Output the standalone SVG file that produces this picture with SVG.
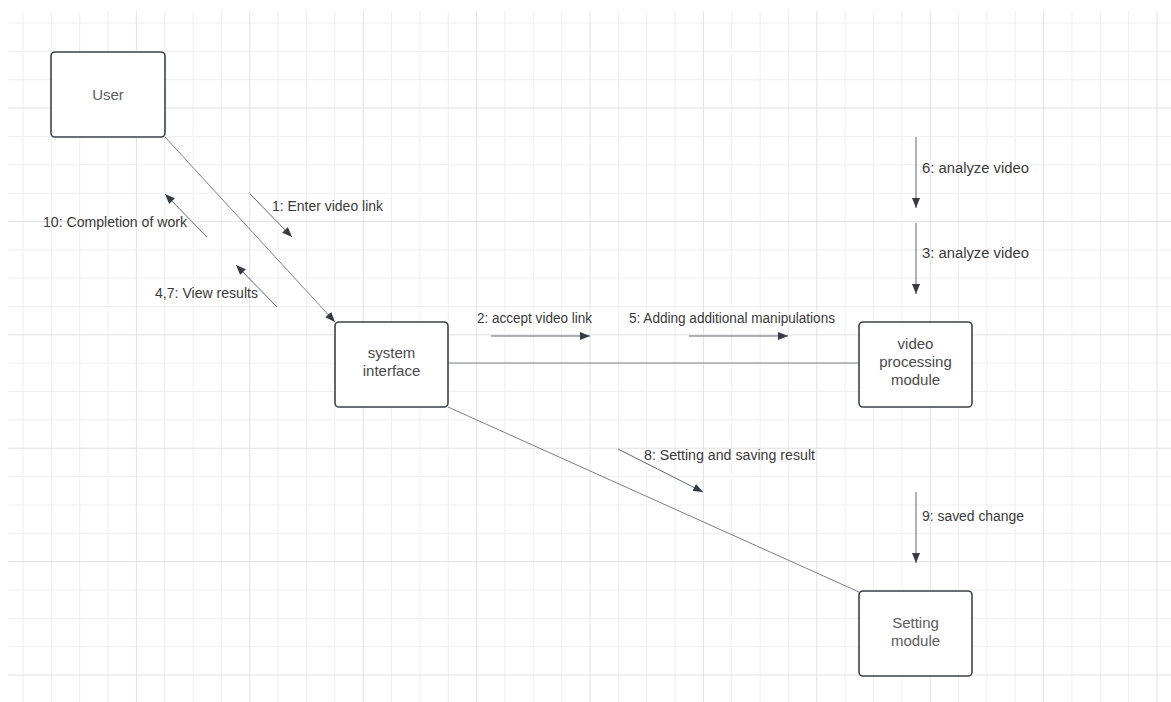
<svg xmlns="http://www.w3.org/2000/svg" width="1171" height="702" viewBox="0 0 1171 702">
<defs>
<style>
.gmin{stroke:#efefef;stroke-width:1;fill:none}
.gmaj{stroke:#e2e2e2;stroke-width:1;fill:none}
.node{fill:#ffffff;stroke:#3d424a;stroke-width:1.6}
.ntext{font-family:"Liberation Sans",Arial,sans-serif;font-size:15px;fill:#4a4a4a;text-anchor:middle}
.link{stroke:#7a7e85;stroke-width:1;fill:none}
.msg{stroke:#5f6670;stroke-width:1;fill:none}
.mtext{font-family:"Liberation Sans",Arial,sans-serif;font-size:14px;fill:#3a3a3a}
</style>
<marker id="ah" viewBox="0 0 10 8" refX="10" refY="4" markerWidth="10" markerHeight="8" markerUnits="userSpaceOnUse" orient="auto">
<path d="M0,0 L10,4 L0,8 z" fill="#363c46"/>
</marker>
</defs>
<rect x="0" y="0" width="1171" height="702" fill="#ffffff"/>
<g id="grid">
<path class="gmin" d="M23,11V702M51.35,11V702M79.7,11V702M108.05,11V702M164.75,11V702M193.1,11V702M221.45,11V702M278.15,11V702M306.5,11V702M334.85,11V702M391.55,11V702M419.9,11V702M448.25,11V702M504.95,11V702M533.3,11V702M561.65,11V702M618.35,11V702M646.7,11V702M675.05,11V702M731.75,11V702M760.1,11V702M788.45,11V702M845.15,11V702M873.5,11V702M901.85,11V702M958.55,11V702M986.9,11V702M1015.25,11V702M1071.95,11V702M1100.3,11V702M1128.65,11V702"/>
<path class="gmin" d="M8,23H1171M8,51.35H1171M8,79.7H1171M8,136.4H1171M8,164.75H1171M8,193.1H1171M8,249.8H1171M8,278.15H1171M8,306.5H1171M8,363.2H1171M8,391.55H1171M8,419.9H1171M8,476.6H1171M8,504.95H1171M8,533.3H1171M8,590H1171M8,618.35H1171M8,646.7H1171"/>
<path class="gmaj" d="M136.4,11V702M249.8,11V702M363.2,11V702M476.6,11V702M590,11V702M703.4,11V702M816.8,11V702M930.2,11V702M1043.6,11V702M1157,11V702"/>
<path class="gmaj" d="M8,108.05H1171M8,221.45H1171M8,334.85H1171M8,448.25H1171M8,561.65H1171M8,675.05H1171"/>
</g>
<g id="connectors">
<line class="link" x1="165" y1="137" x2="335" y2="322" marker-end="url(#ah)"/>
<line class="link" x1="448" y1="363" x2="859" y2="363"/>
<line class="link" x1="448" y1="407" x2="859" y2="592"/>
<line class="msg" x1="250" y1="194" x2="292" y2="237" marker-end="url(#ah)"/>
<text class="mtext" x="272" y="211" textLength="111" lengthAdjust="spacingAndGlyphs">1: Enter video link</text>
<line class="msg" x1="207" y1="237" x2="165" y2="194" marker-end="url(#ah)"/>
<text class="mtext" x="43" y="227" textLength="144" lengthAdjust="spacingAndGlyphs">10: Completion of work</text>
<line class="msg" x1="277" y1="307" x2="236" y2="265" marker-end="url(#ah)"/>
<text class="mtext" x="155" y="298" textLength="103" lengthAdjust="spacingAndGlyphs">4,7: View results</text>
<line class="msg" x1="491" y1="336" x2="590" y2="336" marker-end="url(#ah)"/>
<text class="mtext" x="477" y="323" textLength="115" lengthAdjust="spacingAndGlyphs">2: accept video link</text>
<line class="msg" x1="689" y1="336" x2="788" y2="336" marker-end="url(#ah)"/>
<text class="mtext" x="629" y="323" textLength="206" lengthAdjust="spacingAndGlyphs">5: Adding additional manipulations</text>
<line class="msg" x1="916" y1="137" x2="916" y2="208" marker-end="url(#ah)"/>
<text class="mtext" x="922" y="173" textLength="107" lengthAdjust="spacingAndGlyphs">6: analyze video</text>
<line class="msg" x1="916" y1="223" x2="916" y2="294" marker-end="url(#ah)"/>
<text class="mtext" x="922" y="258" textLength="107" lengthAdjust="spacingAndGlyphs">3: analyze video</text>
<line class="msg" x1="618" y1="449" x2="703" y2="492" marker-end="url(#ah)"/>
<text class="mtext" x="644" y="460" textLength="171" lengthAdjust="spacingAndGlyphs">8: Setting and saving result</text>
<line class="msg" x1="916" y1="492" x2="916" y2="563" marker-end="url(#ah)"/>
<text class="mtext" x="922" y="521" textLength="102" lengthAdjust="spacingAndGlyphs">9: saved change</text>
</g>
<g id="user">
<rect class="node" x="51" y="52" width="114" height="85" rx="4"/>
<text class="ntext" x="108" y="100" style="fill:#5c5c5c">User</text>
</g>
<g id="system-interface">
<rect class="node" x="335" y="322" width="113" height="85" rx="4"/>
<text class="ntext" x="391.5" y="358">system</text>
<text class="ntext" x="391.5" y="376">interface</text>
</g>
<g id="video-processing-module">
<rect class="node" x="859" y="322" width="113" height="85" rx="4"/>
<text class="ntext" x="915.5" y="349">video</text>
<text class="ntext" x="915.5" y="367">processing</text>
<text class="ntext" x="915.5" y="385">module</text>
</g>
<g id="setting-module">
<rect class="node" x="859" y="591" width="113" height="85" rx="4"/>
<text class="ntext" x="915.5" y="628" style="fill:#5c5c5c">Setting</text>
<text class="ntext" x="915.5" y="646" style="fill:#5c5c5c">module</text>
</g>
</svg>
